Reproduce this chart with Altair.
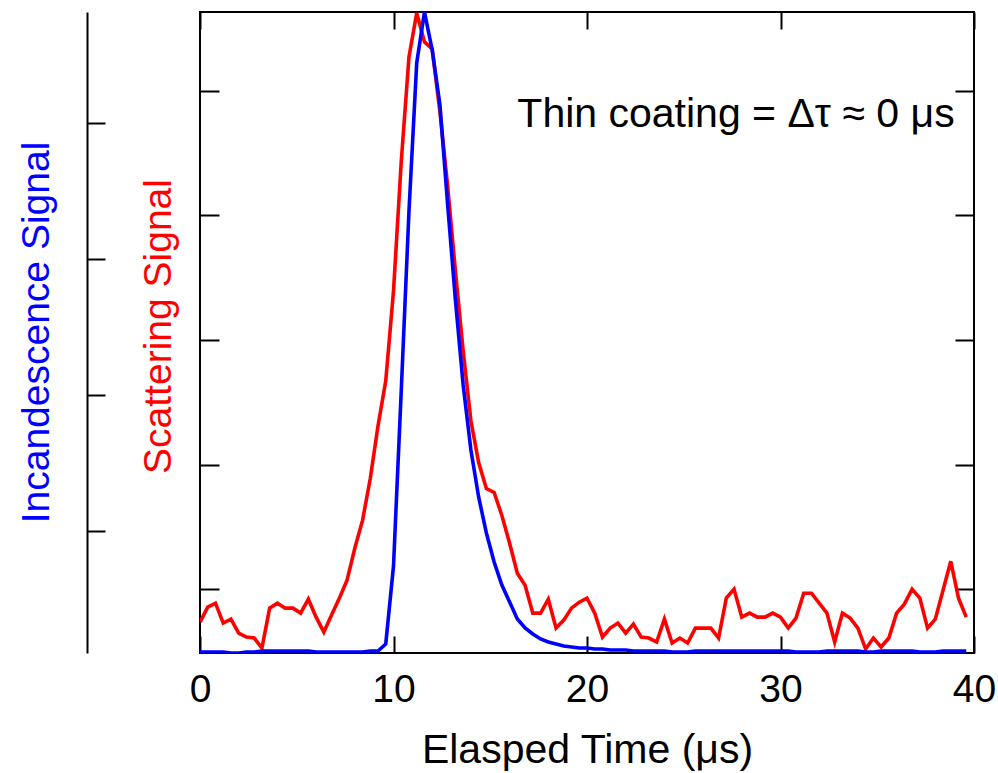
import altair as alt
import pandas as pd

# Sampling times (microseconds), one point every 0.4 us
time_us = [0.0, 0.4, 0.8, 1.2, 1.6, 2.0, 2.4, 2.8, 3.2, 3.6,
           4.0, 4.4, 4.8, 5.2, 5.6, 6.0, 6.4, 6.8, 7.2, 7.6,
           8.0, 8.4, 8.8, 9.2, 9.6, 10.0, 10.4, 10.8, 11.2, 11.6,
           12.0, 12.4, 12.8, 13.2, 13.6, 14.0, 14.4, 14.8, 15.2, 15.6,
           16.0, 16.4, 16.8, 17.2, 17.6, 18.0, 18.4, 18.8, 19.2, 19.6,
           20.0, 20.4, 20.8, 21.2, 21.6, 22.0, 22.4, 22.8, 23.2, 23.6,
           24.0, 24.4, 24.8, 25.2, 25.6, 26.0, 26.4, 26.8, 27.2, 27.6,
           28.0, 28.4, 28.8, 29.2, 29.6, 30.0, 30.4, 30.8, 31.2, 31.6,
           32.0, 32.4, 32.8, 33.2, 33.6, 34.0, 34.4, 34.8, 35.2, 35.6,
           36.0, 36.4, 36.8, 37.2, 37.6, 38.0, 38.4, 38.8, 39.2, 39.6]

# Scattering signal (arbitrary units)
scattering = [-33, -18, -14, -34, -30, -44, -48, -49, -59, -19,
              -14, -19, -19, -24, -10, -28, -43, -26, -9, 9,
              41, 69, 111, 164, 209, 299, 429, 534, 578, 549,
              542, 479, 404, 319, 239, 169, 127, 101, 97, 74,
              46, 16, 4, -24, -24, -10, -39, -31, -19, -13,
              -9, -24, -48, -39, -34, -44, -35, -48, -49, -53,
              -30, -54, -49, -54, -39, -39, -39, -49, -9, 0,
              -28, -24, -28, -28, -24, -28, -39, -29, -4, -4,
              -14, -24, -53, -24, -29, -39, -60, -49, -58, -49,
              -24, -15, 0, -9, -39, -30, -1, 28, -9, -28]

# Incandescence signal (arbitrary units)
incandescence = [-121, -121, -121, -121, -122, -122, -121, -121, -120, -120,
                 -120, -120, -120, -120, -120, -121, -121, -121, -121, -121,
                 -121, -121, -120, -120, -113, -35, 140, 320, 468, 519,
                 481, 426, 326, 231, 146, 81, 34, -2, -31, -54,
                 -71, -88, -97, -103, -108, -111, -113, -115, -116, -117,
                 -117, -118, -118, -119, -119, -119, -120, -120, -120, -120,
                 -120, -121, -121, -121, -120, -120, -120, -120, -120, -120,
                 -120, -120, -120, -120, -120, -120, -120, -121, -121, -121,
                 -121, -120, -120, -120, -120, -120, -121, -121, -120, -120,
                 -120, -120, -120, -121, -121, -121, -120, -120, -120, -120]

x_ticks = [0, 10, 20, 30, 40]
scat_ticks = [0, 125, 250, 375, 500]
inc_ticks = [0, 136, 272, 408]

note_label = ["Thin coating = \u0394\u03c4 \u2248 0 \u03bcs"]
note_x = [39.0]
note_y = [464]

df = pd.DataFrame({"t": time_us, "scat": scattering, "inc": incandescence})
note = pd.DataFrame({"x": note_x, "y": note_y, "label": note_label})

FONT = "Liberation Sans"
FS = 39
FS_BIG = 41
RED = "#ff0000"
BLUE = "#0000ff"
LW = 3.6

xscale = alt.Scale(domain=[0, 40], nice=False, zero=False)
sscale = alt.Scale(domain=[-64, 579], nice=False, zero=False)
iscale = alt.Scale(domain=[-122, 519], nice=False, zero=False)

tick_style = dict(domain=False, grid=False, tickColor="black", tickWidth=2)

x_bottom = alt.X(
    "t:Q", scale=xscale, title="Elasped Time (\u03bcs)",
    axis=alt.Axis(orient="bottom", offset=-17, tickSize=17, values=x_ticks,
                  labelFont=FONT, labelFontSize=FS, labelColor="black",
                  labelPadding=17, labelFlush=False, labelOverlap=False,
                  titleFont=FONT, titleFontSize=FS_BIG, titleFontWeight="normal",
                  titleColor="black", titleBaseline="alphabetic", titleY=126,
                  **tick_style))
x_top = alt.X(
    "t:Q", scale=xscale, title=None,
    axis=alt.Axis(orient="top", offset=-17, tickSize=17, values=x_ticks,
                  labels=False, **tick_style))
x_none = alt.X("t:Q", scale=xscale, axis=None)

red = alt.Chart(df).mark_line(color=RED, strokeWidth=LW, clip=True).encode(
    x=x_bottom,
    y=alt.Y("scat:Q", scale=sscale, title="Scattering Signal",
            axis=alt.Axis(orient="left", offset=-19, tickSize=19, values=scat_ticks,
                          labels=False, titleFont=FONT, titleFontSize=FS,
                          titleFontWeight="normal", titleColor=RED, titleAngle=270,
                          titleAlign="center", titleBaseline="alphabetic",
                          titleX=-49, titleY=314, **tick_style)))

red_right = alt.Chart(df).mark_line(opacity=0).encode(
    x=x_top,
    y=alt.Y("scat:Q", scale=sscale, title=None,
            axis=alt.Axis(orient="right", offset=-19, tickSize=19, values=scat_ticks,
                          labels=False, **tick_style)))

blue = alt.Chart(df).mark_line(color=BLUE, strokeWidth=LW, clip=True).encode(
    x=x_none,
    y=alt.Y("inc:Q", scale=iscale, title="Incandescence Signal",
            axis=alt.Axis(orient="left", offset=95, tickSize=18, values=inc_ticks,
                          labels=False, titleFont=FONT, titleFontSize=FS,
                          titleFontWeight="normal", titleColor=BLUE, titleAngle=270,
                          titleAlign="center", titleBaseline="alphabetic",
                          titleX=-57, titleY=320, **tick_style)))

blue_axis_line = alt.Chart(df).mark_line(opacity=0).encode(
    x=x_none,
    y=alt.Y("inc:Q", scale=iscale, title=None,
            axis=alt.Axis(orient="left", offset=113, domain=True, domainColor="black",
                          domainWidth=2, ticks=False, labels=False, grid=False)))

text = alt.Chart(note).mark_text(font=FONT, fontSize=FS_BIG, align="right",
                                 baseline="alphabetic", color="black").encode(
    x=alt.X("x:Q", scale=xscale, axis=None),
    y=alt.Y("y:Q", scale=sscale, axis=None),
    text="label:N")

chart = (
    alt.layer(red, red_right, blue, blue_axis_line, text)
    .resolve_scale(y="independent")
    .resolve_axis(x="independent", y="independent")
    .properties(width=774, height=641,
                padding={"left": 200, "top": 12, "right": 24, "bottom": 120},
                autosize=alt.AutoSizeParams(type="none"),
                background="white")
    .configure_view(stroke="black", strokeWidth=2)
)

chart.save("out.html", embed_options={"renderer": "svg", "actions": False})
